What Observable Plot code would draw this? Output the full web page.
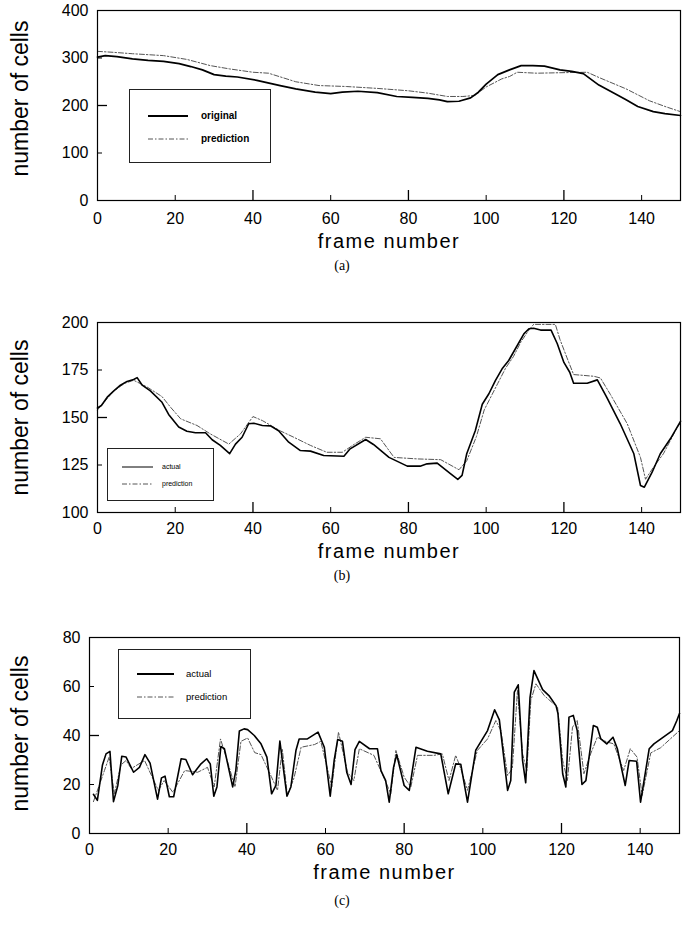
<!DOCTYPE html>
<html><head><meta charset="utf-8">
<script src="https://cdn.jsdelivr.net/npm/d3@7"></script>
<script src="https://cdn.jsdelivr.net/npm/@observablehq/plot@0.6"></script>
<style>
body{margin:0;background:#fff;}
#root{position:relative;width:684px;height:925px;font-family:Arial,"Liberation Sans",sans-serif;overflow:hidden;}
.panel{position:absolute;left:0;}
.cap{position:absolute;left:0;width:684px;text-align:center;font-family:"Liberation Serif","Times New Roman",serif;font-size:14px;line-height:14px;}
.legend{position:absolute;border:1.3px solid #222;background:#fff;box-sizing:border-box;}
.legend .row{position:absolute;left:0;white-space:nowrap;}
</style></head><body><div id="root"></div>
<script>
// ---------- data ----------
const xTickValues = [0, 20, 40, 60, 80, 100, 120, 140];

// panel (a)
const aOrigFrames = [0,2,5,9,13,17,21,24,27,30,33,36,41,47,51,56,60,63,67,72,77,81,85,88,90,93,96,98,100,103,106,109,112,115,119,122,125,129,134,136,139,143,146,150];
const aOrigValues = [302,305,303,298,295,293,288,282,275,265,262,260,253,242,235,228,225,228,230,227,219,217,215,212,208,209,216,228,245,265,275,284,284,283,275,272,267,243,221,212,198,187,183,179];
const aPredFrames = [0,4,9,17,23,29,34,40,44,51,57,64,72,80,85,90,94,97,100,104,106,108,113,119,126,129,136,142,146,150];
const aPredValues = [314,312,309,305,297,284,277,270,268,250,242,240,236,231,226,219,219,221,239,256,261,270,268,269,270,259,235,210,198,187];
const aYTicks = [0, 100, 200, 300, 400];

// panel (b)
const bActFrames = [0,1,2.5,4.2,5.9,7.6,9.3,10.2,11.5,13.6,16.6,18.3,20.9,23,25.2,27.8,29.5,31.6,34,35.5,37.2,38.9,40.2,42.4,44.5,46.6,49.2,52.2,54.8,58.2,63.4,65,69,71,75,79.7,83,84.8,87.4,90.8,92.7,93.8,95,97.2,99,100.7,102.4,104.1,105.8,108,109.7,111,112.2,114,116.7,118.3,120,121.5,122.5,126,128.6,131,134.5,138,139.7,140.7,142.7,144.8,147.4,150];
const bActValues = [155,156.3,160.7,164,167,169,170,171,167,164,158,151.6,145,142.8,142,142,138.3,135.3,131,136,139.6,146.7,147,145.8,145.6,143,137,132.6,132.3,130,129.6,133.5,138.4,135.8,129,124.4,124.4,125.6,126,120.4,117.4,119.5,130.9,143,157,162.5,169.5,175.6,180,187.9,194,196.7,197,196,196,188.8,179,173.8,168,168,169.8,160.7,146.7,130.9,114.2,113.3,121.2,130.9,138.8,148];
const bPredFrames = [0,2.5,4.2,7,9.3,12.8,16.6,18.8,21.4,25.6,29,33.8,36.8,40,42.4,47,50.5,54.8,59,63,66,69,72.8,76.3,82.3,88.3,93,95,97.5,99.5,101.5,103,105,107,109,111,112.2,117.8,119,120.8,122.5,127.7,129.4,132,136.3,139.7,141,143,145.6,149.2,150];
const bPredValues = [154,160,164,168,169.6,166,161,155.4,149.3,145.8,141.4,136,141.4,150.5,148.4,143,139.6,135.3,131.7,131.7,135.8,139.6,138.8,129,128.2,127.8,122.5,127.2,140,154,162,168,176,182,190,196,199,199,191,181.4,172.6,171.7,170.8,162,146.7,129,117.5,123.7,130.9,145,147];
const bYTicks = [100, 125, 150, 175, 200];

// panel (c)
const cActFrames = [1,2,3.3,4.2,5.2,6.1,7.2,8.2,9.3,11.2,12.7,14.1,15.4,17.3,18.3,19.2,20.3,21.4,23.3,24.5,26.2,28.2,29.8,30.7,31.6,32.4,33.4,34.3,36.4,37.2,38.1,39.3,40.2,41.9,43.6,45.1,46.3,47.4,48.4,50.2,51.2,52.5,53.3,55.4,58.1,59.7,61.2,62.2,63.1,64.3,65.4,66.5,67.5,68.6,71.2,73.2,74.1,75.3,76.2,77.3,78.1,80,81.3,83,85.9,89.3,91.2,93.1,94.4,96.1,98.2,101.2,103,104.2,106.3,107.1,108,109,110.1,110.9,112,113,115.2,116.8,118.6,119.1,120.3,121.1,121.9,123,124,125.2,126.2,128.1,129.1,130,131.5,133.1,134.2,136.2,137.2,139.1,140.1,142.3,143.5,148.2,149.3,150];
const cActValues = [16,13.5,28,32.5,33.5,13,19.6,31.5,31.2,25,27,32.2,28.7,14,22.7,23.4,15,15,30.5,30.2,24,28.2,30.5,28.4,15.2,19,35.5,34.6,19,25.7,41.8,42.7,42.4,40,36.6,31.2,16.2,19.6,37.7,15.2,19,34,38.6,38.6,41.4,35.2,15.2,29.8,38.4,37.7,25,20,34.2,37.6,34.6,34.6,25.7,21.6,12.8,27,32.2,19.6,17.6,35.2,33.6,32.5,16.2,28.4,28.2,12.8,34,42,50.5,46.4,17.6,21.6,57.7,60.7,29.8,20.7,55.6,66.5,58.7,56.3,52.2,49,24.4,19,47.5,48.2,42,20,21.6,44.1,43.4,38.6,36.6,39.3,34.6,19.6,29.8,29.5,12.8,34.6,36.6,42,46,49];
const cPredFrames = [1,3.8,5,6.3,8,9.3,10.6,14,17.5,19,21.2,24.2,27.5,30,31.7,33.3,35,37,38.5,40.2,42,43.6,46.2,47.8,49,50.3,52,53.8,57.2,58.8,61.6,63.3,65.6,67.2,68.6,72.3,74.8,76.6,77.9,80,81.7,83.4,87.6,89.7,91.4,93.1,94.4,96.1,98.6,101.2,103.3,104.6,106.3,107.5,108.8,110.1,111.2,112.2,113.5,115.6,119,120.3,121.5,122.8,124,125.7,127.4,129.1,131.6,133.3,135.8,137.5,139.2,140.5,142.7,145.2,150];
const cPredValues = [13,25.7,31.2,16.2,28,29.8,26.5,29.8,17.6,21.6,16.8,25.7,25,27,19,38.6,29.8,19,37.6,39,33,32.2,23.3,17.6,34.6,15.5,22.7,35.2,36.3,37.6,19,41.4,25,21.6,34.6,31.9,23,16.2,33.9,23,19,31.9,31.9,32.5,21.6,31.9,26.5,17.6,33.9,38.6,46.1,42,23.7,26.5,58.4,32.5,25.7,54.3,61.1,56.3,51.5,29.8,21.6,43.4,46.1,24.4,32.5,39.3,37.3,36.6,25.7,34.6,31.2,15.5,32.9,35,42];
const cYTicks = [0, 20, 40, 60, 80];

const xLabel = "frame number";
const yLabel = "number of cells";

// ---------- drawing ----------
const root = document.getElementById("root");
const zip = (fs, vs) => fs.map((f, i) => ({f, v: vs[i]}));

function panel(o) {
  const W = 684, mr = 684 - o.right, ph = o.ph, pw = o.right - o.ml;
  const mb = 62;
  const xLong = [40, 80, 120], xShort = [20, 60, 100, 140];
  const svg = Plot.plot({
    width: W, height: o.mt + ph + mb,
    marginTop: o.mt, marginLeft: o.ml, marginRight: mr, marginBottom: mb,
    x: {domain: [0, 150]},
    y: {domain: [o.yTicks[0], o.yTicks[o.yTicks.length - 1]]},
    style: {fontFamily: "Arial, 'Liberation Sans', sans-serif", fontSize: "16px", color: "#000", background: "transparent"},
    marks: [
      Plot.axisX(xTickValues, {tickSize: 0, tickPadding: o.xpad, label: null}),
      Plot.axisY(o.yTicks, {tickSize: 0, tickPadding: 9, label: null}),
      Plot.ruleX(xLong, {insetTop: ph - 10, stroke: "#000", strokeWidth: 1.3}),
      Plot.ruleX(xShort, {insetTop: ph - 5, stroke: "#000", strokeWidth: 1}),
      Plot.ruleY([o.yTicks[2]], {insetRight: pw - 10, stroke: "#000", strokeWidth: 1.3}),
      Plot.ruleY([o.yTicks[1], o.yTicks[3]], {insetRight: pw - 5, stroke: "#000", strokeWidth: 1}),
      Plot.line(zip(o.predF, o.predV), {x: "f", y: "v", stroke: "#555", strokeWidth: 1, strokeDasharray: "5,2,1.5,2"}),
      Plot.line(zip(o.actF, o.actV), {x: "f", y: "v", stroke: "#000", strokeWidth: o.sw}),
      Plot.frame({stroke: "#000", strokeWidth: 1.2}),
      Plot.text([xLabel], {frameAnchor: "bottom", dy: o.xlab, fontSize: 20, lineAnchor: "middle", textAnchor: "middle", fill: "#000"}),
      Plot.text([yLabel], {frameAnchor: "left", dx: o.ylabx, dy: o.ylaby, rotate: -90, fontSize: 23, lineAnchor: "middle", textAnchor: "middle", fill: "#000"})
    ]
  });
  svg.classList.add("panel");
  svg.style.top = o.top + "px";
  d3.select(svg).selectAll("text").filter(function () { return this.textContent === xLabel; })
    .style("letter-spacing", "1.5px");
  root.appendChild(svg);

  const cap = document.createElement("div");
  cap.className = "cap";
  cap.style.top = o.capY + "px";
  cap.textContent = o.cap;
  root.appendChild(cap);

  const L = o.leg;
  const box = document.createElement("div");
  box.className = "legend";
  Object.assign(box.style, {left: L.x + "px", top: L.y + "px", width: L.w + "px", height: L.h + "px"});
  o.names.forEach((name, i) => {
    const row = document.createElement("div");
    row.className = "row";
    const ry = L.rows[i];
    const s = `<svg width="${L.tx}" height="10" style="position:absolute;left:0;top:${ry - 5}px"><line x1="${L.l1}" x2="${L.l2}" y1="5" y2="5" stroke="${i ? '#555' : '#000'}" stroke-width="${i ? 1 : L.sw}" ${i ? 'stroke-dasharray="5,2,1.5,2"' : ''}/></svg>`;
    row.innerHTML = s + `<span style="position:absolute;left:${L.tx}px;top:${ry - L.fs * 0.62}px;font-size:${L.fs}px;font-weight:${L.fw};font-family:Arial,'Liberation Sans',sans-serif;">${name}</span>`;
    box.appendChild(row);
  });
  root.appendChild(box);
}

panel({top: 0, mt: 10, ml: 97, right: 680, ph: 190, yTicks: aYTicks, xpad: 12, xlab: 41, ylabx: -77, ylaby: -7, sw: 1.7,
  actF: aOrigFrames, actV: aOrigValues, predF: aPredFrames, predV: aPredValues,
  cap: "(a)", capY: 259, names: ["original", "prediction"],
  leg: {x: 129, y: 89, w: 142, h: 74, rows: [26, 49], l1: 18, l2: 58, tx: 71, fs: 10, fw: "bold", sw: 1.8}});

panel({top: 300, mt: 22, ml: 97, right: 680, ph: 190, yTicks: bYTicks, xpad: 10, xlab: 39, ylabx: -77, ylaby: 0, sw: 1.6,
  actF: bActFrames, actV: bActValues, predF: bPredFrames, predV: bPredValues,
  cap: "(b)", capY: 569, names: ["actual", "prediction"],
  leg: {x: 107, y: 448, w: 107, h: 53, rows: [18, 35], l1: 14, l2: 45, tx: 54, fs: 7, fw: "normal", sw: 1}});

panel({top: 620, mt: 17, ml: 89, right: 679, ph: 196, yTicks: cYTicks, xpad: 10, xlab: 39, ylabx: -69, ylaby: -2, sw: 1.6,
  actF: cActFrames, actV: cActValues, predF: cPredFrames, predV: cPredValues,
  cap: "(c)", capY: 894, names: ["actual", "prediction"],
  leg: {x: 118, y: 649, w: 133, h: 70, rows: [24, 47], l1: 18, l2: 55, tx: 67, fs: 9.5, fw: "normal", sw: 1.8}});
</script></body></html>
